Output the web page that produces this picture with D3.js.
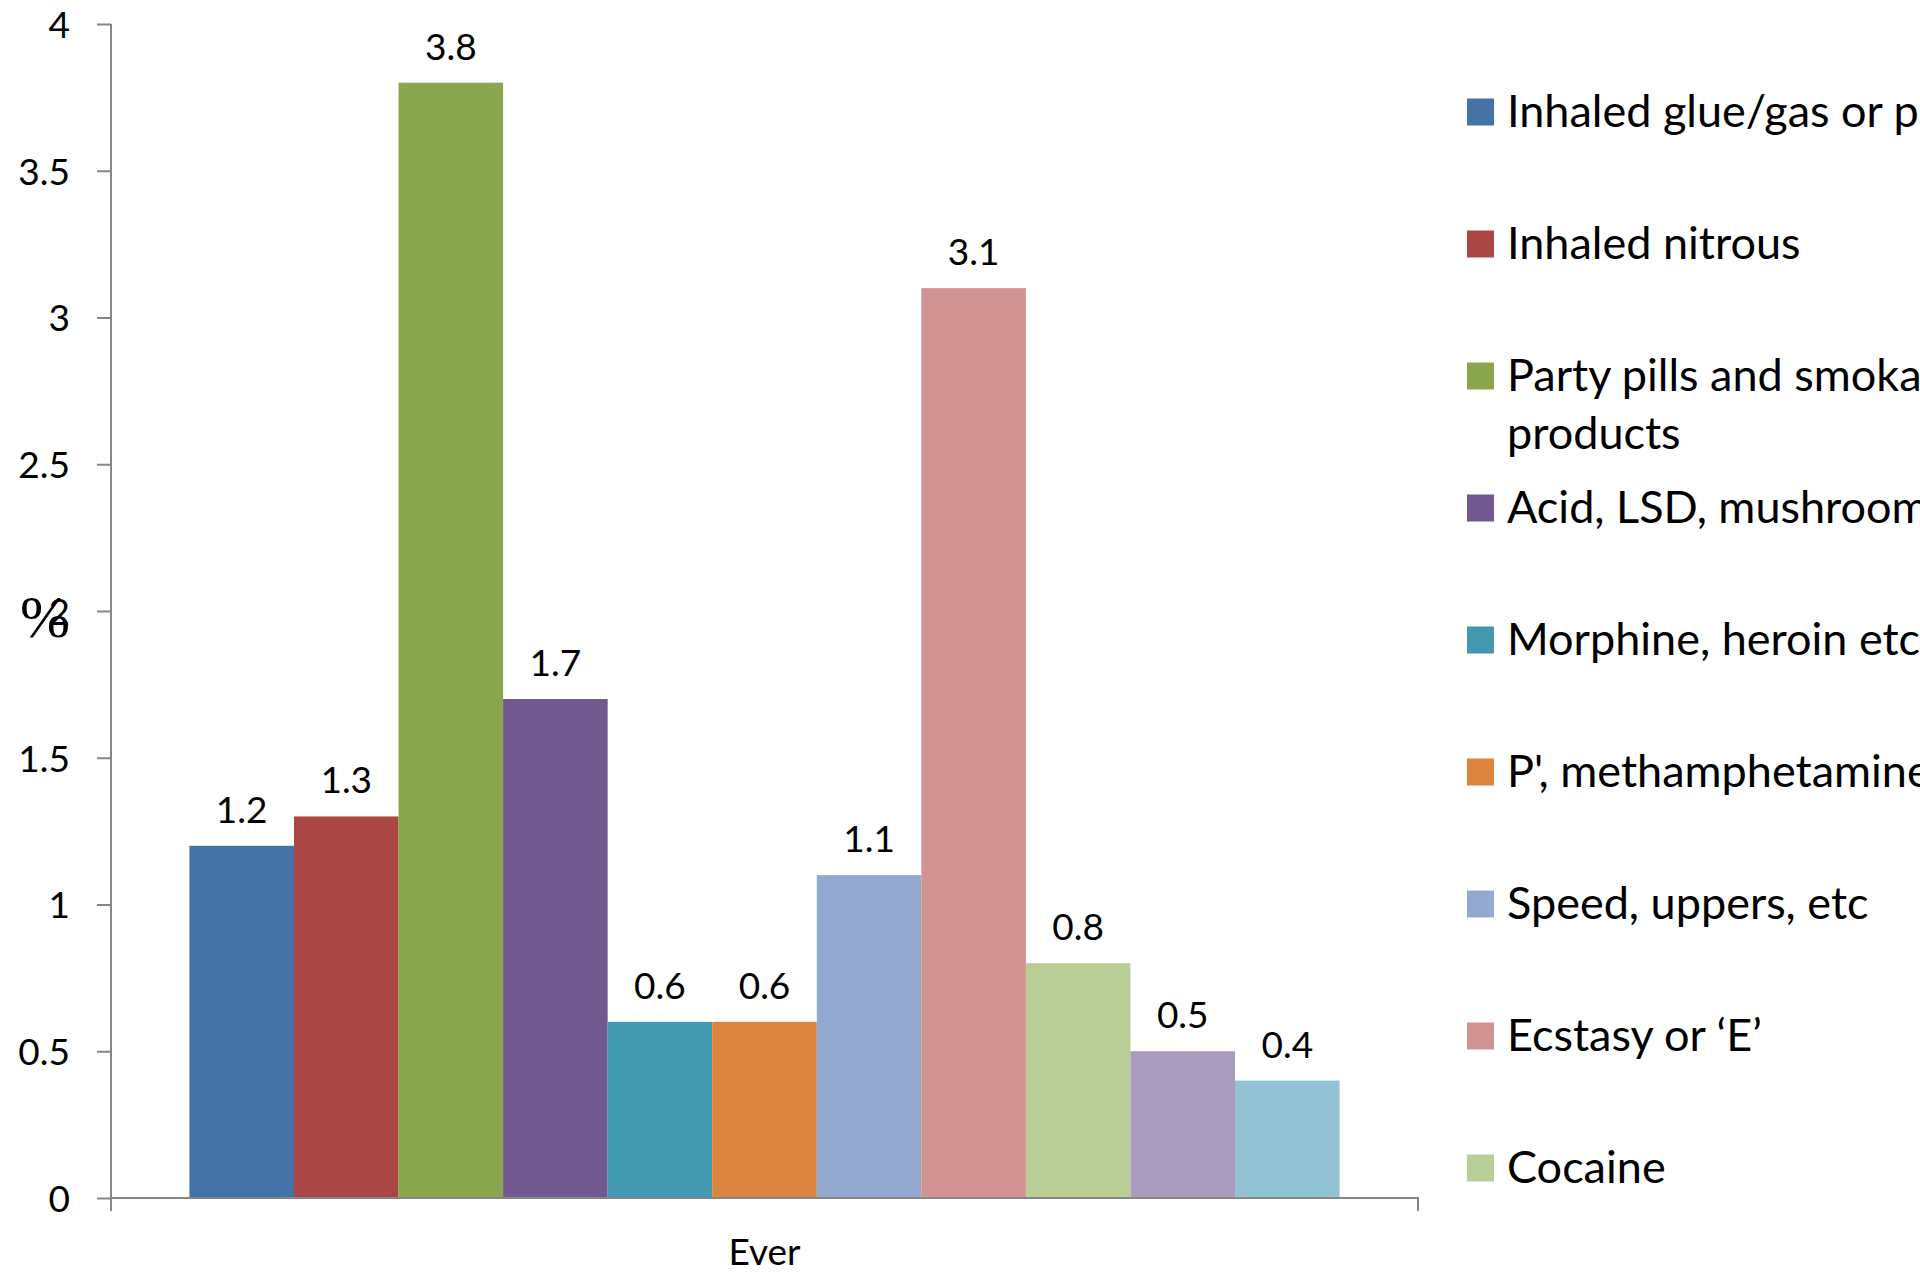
<!DOCTYPE html>
<html>
<head>
<meta charset="utf-8">
<script src="https://cdn.jsdelivr.net/npm/d3@7"></script>
<style>
  html, body { margin: 0; padding: 0; background: #fff; }
  svg { display: block; }
</style>
</head>
<body>
<svg id="chart" width="1920" height="1273"></svg>
<script>
// Drug use ("Ever") by substance, percent of respondents
const categories = ["Ever"];
const seriesNames = [
  "Inhaled glue/gas or petrol",
  "Inhaled nitrous",
  "Party pills and smokable products",
  "Acid, LSD, mushrooms",
  "Morphine, heroin etc",
  "P', methamphetamine",
  "Speed, uppers, etc",
  "Ecstasy or \u2018E\u2019",
  "Cocaine",
  "Other drugs",
  "Prescription medicines"
];
const seriesValues = [1.2, 1.3, 3.8, 1.7, 0.6, 0.6, 1.1, 3.1, 0.8, 0.5, 0.4];
const seriesColors = ["#4572A7", "#AA4643", "#89A54E", "#71588F", "#4198AF",
                      "#DB843D", "#93A9CF", "#D19392", "#B9CD96", "#A99BBD", "#92C3D5"];
const yTicks = [0, 0.5, 1, 1.5, 2, 2.5, 3, 3.5, 4];
const yTitle = "%";

const W = 1920, H = 1273;
const plot = { left: 111, right: 1418, top: 24, bottom: 1198 };
const axisColor = "#868686";
const font = "Lato, 'Open Sans', sans-serif";
const labelSize = 37;

const svg = d3.select("#chart");
svg.append("rect").attr("width", W).attr("height", H).attr("fill", "#fff");

const y = d3.scaleLinear().domain([0, 4]).range([plot.bottom, plot.top]);
const x0 = d3.scaleBand().domain(categories).range([plot.left, plot.right]).padding(0);
const x1 = d3.scaleBand().domain(seriesNames).range([0, x0.bandwidth()])
  .paddingInner(0).paddingOuter(0.75);
const color = d3.scaleOrdinal().domain(seriesNames).range(seriesColors);

const rows = seriesNames.map((name, i) => ({ cat: categories[0], name, value: seriesValues[i] }));

// Bars
const g = svg.append("g");
g.selectAll("rect.bar").data(rows).join("rect")
  .attr("class", "bar")
  .attr("x", d => x0(d.cat) + x1(d.name))
  .attr("y", d => y(d.value))
  .attr("width", x1.bandwidth())
  .attr("height", d => y(0) - y(d.value))
  .attr("fill", d => color(d.name));

// Value labels above bars
g.selectAll("text.val").data(rows).join("text")
  .attr("class", "val")
  .attr("x", d => x0(d.cat) + x1(d.name) + x1.bandwidth() / 2)
  .attr("y", d => y(d.value) - 23)
  .attr("text-anchor", "middle")
  .attr("font-family", font)
  .attr("font-size", labelSize)
  .attr("fill", "#000")
  .text(d => d3.format(".1f")(d.value));

// Y axis
const yAxis = svg.append("g")
  .attr("transform", `translate(${plot.left},0)`)
  .call(d3.axisLeft(y).tickValues(yTicks).tickSize(14).tickPadding(27)
    .tickFormat(d => d3.format("~g")(d)));
yAxis.select(".domain").attr("stroke", axisColor).attr("stroke-width", 2)
  .attr("d", `M0,${plot.top}V${plot.bottom + 13}`);
yAxis.selectAll(".tick line").attr("stroke", axisColor).attr("stroke-width", 2);
yAxis.selectAll(".tick text")
  .attr("font-family", font).attr("font-size", labelSize).attr("fill", "#000")
  .attr("dy", "0.36em");

// X axis
const xAxis = svg.append("g")
  .attr("transform", `translate(0,${plot.bottom})`)
  .call(d3.axisBottom(x0).tickSize(0).tickPadding(41));
xAxis.select(".domain").attr("stroke", axisColor).attr("stroke-width", 2)
  .attr("d", `M${plot.left},13V0H${plot.right}V13`);
xAxis.selectAll(".tick text")
  .attr("font-family", font).attr("font-size", labelSize).attr("fill", "#000")
  .attr("dy", "0.71em");

// Y axis title
svg.append("text")
  .attr("x", 45).attr("y", 637)
  .attr("text-anchor", "middle")
  .attr("font-family", "'Liberation Serif', serif")
  .attr("font-size", 60)
  .attr("fill", "#000")
  .text(yTitle);

// Legend
const legend = svg.append("g").attr("font-family", font).attr("font-size", 45);
const legendX = 1467, legendY0 = 112, legendStep = 132, sw = 27, wrapWidth = 630;
seriesNames.forEach((name, i) => {
  const cy = legendY0 + i * legendStep;
  if (cy > H) return;
  const item = legend.append("g");
  item.append("rect")
    .attr("x", legendX).attr("y", cy - sw / 2)
    .attr("width", sw).attr("height", sw)
    .attr("fill", seriesColors[i]);
  const text = item.append("text")
    .attr("x", legendX + 40).attr("y", cy + 15)
    .attr("fill", "#000");
  // wrap long labels word by word
  const words = name.split(" ");
  let line = [];
  let tspan = text.append("tspan").attr("x", legendX + 40).attr("dy", 0);
  words.forEach(w => {
    line.push(w);
    tspan.text(line.join(" "));
    if (tspan.node().getComputedTextLength() > wrapWidth && line.length > 1) {
      line.pop();
      tspan.text(line.join(" "));
      line = [w];
      tspan = text.append("tspan").attr("x", legendX + 40).attr("dy", 58).text(w);
    }
  });
});
</script>
</body>
</html>
